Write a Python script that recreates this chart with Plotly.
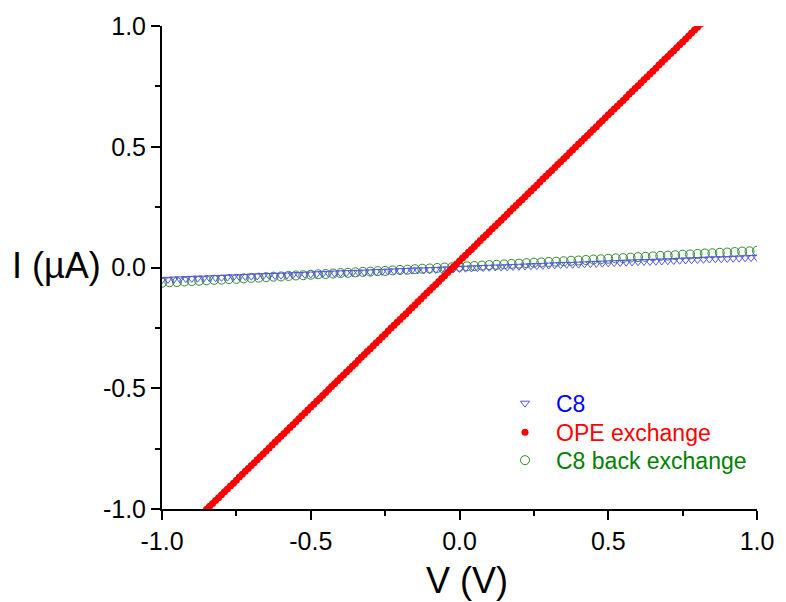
import plotly.graph_objects as go

# Voltage sweeps (V)
v_c8 = [round(-1 + 0.02 * i, 2) for i in range(101)]
v_ope = [round(-1 + 0.01 * i, 2) for i in range(201)]
v_back = [round(-1 + 0.025 * i, 3) for i in range(81)]

# Currents (uA)
i_c8 = [-0.050, -0.049, -0.048, -0.047, -0.046, -0.045, -0.044, -0.044, -0.043, -0.042,
        -0.041, -0.040, -0.039, -0.038, -0.037, -0.036, -0.035, -0.034, -0.033, -0.033,
        -0.032, -0.031, -0.030, -0.029, -0.028, -0.027, -0.026, -0.025, -0.024, -0.023,
        -0.022, -0.021, -0.021, -0.020, -0.019, -0.018, -0.017, -0.016, -0.015, -0.014,
        -0.013, -0.012, -0.011, -0.010, -0.010, -0.009, -0.008, -0.007, -0.006, -0.005,
        -0.004, -0.003, -0.002, -0.001, 0.000, 0.001, 0.002, 0.002, 0.003, 0.004,
        0.005, 0.006, 0.007, 0.008, 0.009, 0.010, 0.011, 0.012, 0.013, 0.013,
        0.014, 0.015, 0.016, 0.017, 0.018, 0.019, 0.020, 0.021, 0.022, 0.023,
        0.024, 0.025, 0.025, 0.026, 0.027, 0.028, 0.029, 0.030, 0.031, 0.032,
        0.033, 0.034, 0.035, 0.036, 0.036, 0.037, 0.038, 0.039, 0.040, 0.041,
        0.042]

i_ope = [-1.183, -1.171, -1.159, -1.147, -1.135, -1.123, -1.110, -1.098, -1.086, -1.074,
         -1.062, -1.050, -1.038, -1.026, -1.014, -1.001, -0.989, -0.977, -0.965, -0.953,
         -0.941, -0.929, -0.917, -0.905, -0.893, -0.881, -0.868, -0.856, -0.844, -0.832,
         -0.820, -0.808, -0.796, -0.784, -0.772, -0.760, -0.747, -0.735, -0.723, -0.711,
         -0.699, -0.687, -0.675, -0.663, -0.651, -0.639, -0.626, -0.614, -0.602, -0.590,
         -0.578, -0.566, -0.554, -0.542, -0.530, -0.518, -0.505, -0.493, -0.481, -0.469,
         -0.457, -0.445, -0.433, -0.421, -0.409, -0.397, -0.384, -0.372, -0.360, -0.348,
         -0.336, -0.324, -0.312, -0.300, -0.288, -0.276, -0.263, -0.251, -0.239, -0.227,
         -0.215, -0.203, -0.191, -0.179, -0.167, -0.155, -0.142, -0.130, -0.118, -0.106,
         -0.094, -0.082, -0.070, -0.058, -0.046, -0.034, -0.021, -0.009, 0.003, 0.015,
         0.027, 0.039, 0.051, 0.063, 0.075, 0.087, 0.099, 0.112, 0.124, 0.136,
         0.148, 0.160, 0.172, 0.184, 0.196, 0.208, 0.220, 0.233, 0.245, 0.257,
         0.269, 0.281, 0.293, 0.305, 0.317, 0.329, 0.341, 0.354, 0.366, 0.378,
         0.390, 0.402, 0.414, 0.426, 0.438, 0.450, 0.462, 0.475, 0.487, 0.499,
         0.511, 0.523, 0.535, 0.547, 0.559, 0.571, 0.583, 0.596, 0.608, 0.620,
         0.632, 0.644, 0.656, 0.668, 0.680, 0.692, 0.704, 0.717, 0.729, 0.741,
         0.753, 0.765, 0.777, 0.789, 0.801, 0.813, 0.825, 0.838, 0.850, 0.862,
         0.874, 0.886, 0.898, 0.910, 0.922, 0.934, 0.946, 0.959, 0.971, 0.983,
         0.995, 1.007, 1.019, 1.031, 1.043, 1.055, 1.067, 1.080, 1.092, 1.104,
         1.116, 1.128, 1.140, 1.152, 1.164, 1.176, 1.188, 1.201, 1.213, 1.225,
         1.237]

i_back = [-0.063, -0.061, -0.060, -0.058, -0.056, -0.055, -0.053, -0.051, -0.050, -0.048,
          -0.047, -0.045, -0.043, -0.042, -0.040, -0.038, -0.037, -0.035, -0.033, -0.032,
          -0.030, -0.028, -0.027, -0.025, -0.023, -0.022, -0.020, -0.018, -0.017, -0.015,
          -0.014, -0.012, -0.010, -0.009, -0.007, -0.005, -0.004, -0.002, 0.000, 0.001,
          0.003, 0.005, 0.006, 0.008, 0.010, 0.011, 0.013, 0.015, 0.016, 0.018,
          0.020, 0.021, 0.023, 0.024, 0.026, 0.028, 0.029, 0.031, 0.033, 0.034,
          0.036, 0.038, 0.039, 0.041, 0.043, 0.044, 0.046, 0.048, 0.049, 0.051,
          0.053, 0.054, 0.056, 0.058, 0.059, 0.061, 0.062, 0.064, 0.066, 0.067,
          0.069]

series_names = ["C8", "OPE exchange", "C8 back exchange"]
x_ticks = [-1.0, -0.5, 0.0, 0.5, 1.0]
y_ticks = [-1.0, -0.5, 0.0, 0.5, 1.0]
x_tick_text = ["-1.0", "-0.5", "0.0", "0.5", "1.0"]
y_tick_text = ["-1.0", "-0.5", "0.0", "0.5", "1.0"]

FONT = "Liberation Sans, Arial, sans-serif"

fig = go.Figure()

fig.add_trace(go.Scatter(
    x=v_back, y=i_back, mode="markers",
    name="<span style='color:#008000'>" + series_names[2] + "</span>",
    legend="legend3",
    marker=dict(symbol="circle-open", size=9, color="#2e8b2e", line=dict(width=1)),
))
fig.add_trace(go.Scatter(
    x=v_c8, y=i_c8, mode="markers",
    name="<span style='color:#0000ff'>" + series_names[0] + "</span>",
    legend="legend",
    marker=dict(symbol="triangle-down-open", size=8, color="#5555ee", line=dict(width=1)),
))
fig.add_trace(go.Scatter(
    x=v_ope, y=i_ope, mode="markers",
    name="<span style='color:#ff0000'>" + series_names[1] + "</span>",
    legend="legend2",
    marker=dict(symbol="circle", size=7, color="#ff0000", line=dict(width=0)),
))

axis_common = dict(
    showline=True, linecolor="black", linewidth=2,
    ticks="outside", ticklen=9, tickwidth=2, tickcolor="black",
    showgrid=False, zeroline=False, mirror=False,
    tickfont=dict(family=FONT, size=25, color="black"),
    minor=dict(ticks="outside", ticklen=5, tickwidth=2, tickcolor="black", dtick=0.25),
)

fig.update_xaxes(range=[-1, 1], tickvals=x_ticks, ticktext=x_tick_text, **axis_common)
fig.update_yaxes(range=[-1, 1], tickvals=y_ticks, ticktext=y_tick_text, **axis_common)

fig.add_annotation(text="V (V)", xref="paper", yref="paper", x=0.513, y=-0.148,
                   xanchor="center", yanchor="middle", showarrow=False,
                   font=dict(family=FONT, size=36, color="black"))
fig.add_annotation(text="I (µA)", xref="paper", yref="paper", x=-0.177, y=0.505,
                   xanchor="center", yanchor="middle", showarrow=False,
                   font=dict(family=FONT, size=36, color="black"))

legend_common = dict(x=0.558, xanchor="left", yanchor="middle",
                     bgcolor="rgba(0,0,0,0)", font=dict(family=FONT, size=23),
                     itemwidth=52)

fig.update_layout(
    width=786, height=602,
    margin=dict(l=162, r=24, t=25, b=93),
    plot_bgcolor="white", paper_bgcolor="white",
    font=dict(family=FONT, color="black"),
    showlegend=True,
    legend=dict(y=0.219, **legend_common),
    legend2=dict(y=0.159, **legend_common),
    legend3=dict(y=0.101, **legend_common),
)

fig.write_html("out.html",
               config={"displayModeBar": False},
               post_script="document.body.style.margin='0px';document.body.style.overflow='hidden';")
